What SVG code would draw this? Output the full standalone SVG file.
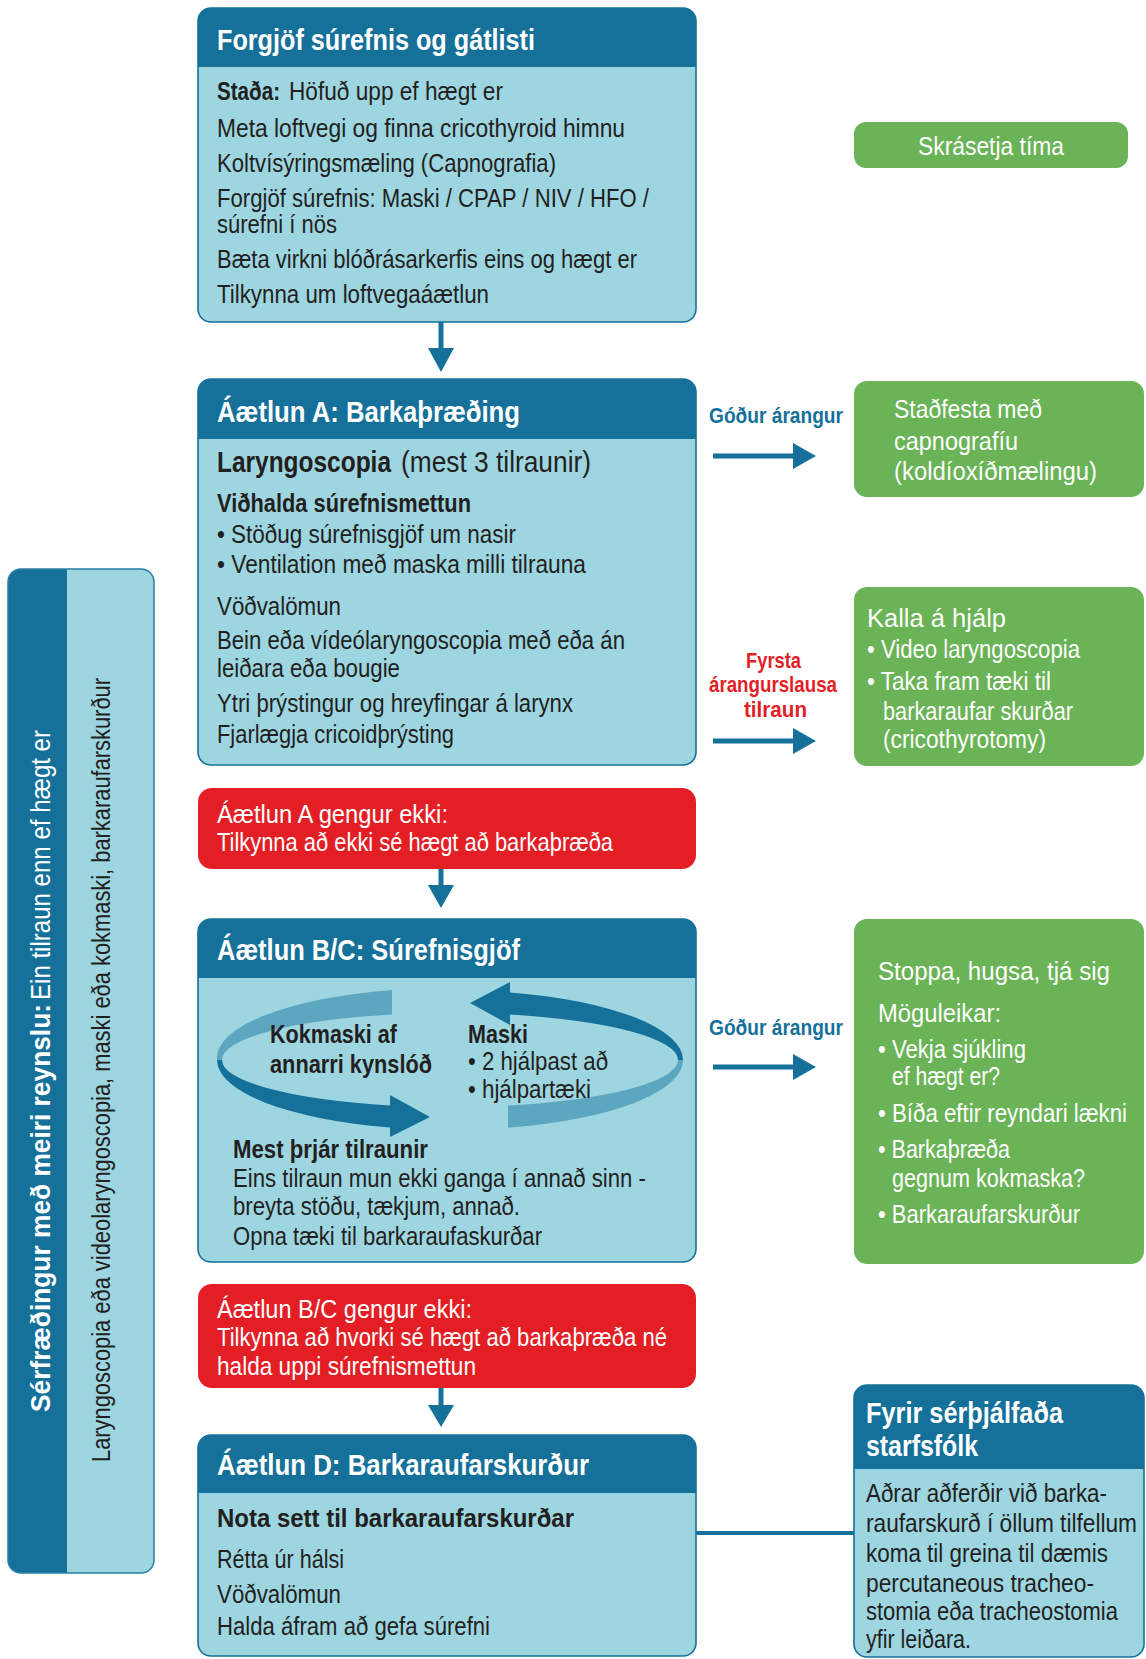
<svg xmlns="http://www.w3.org/2000/svg" width="1146" height="1659" viewBox="0 0 1146 1659">
<style>
text{font-family:"Liberation Sans",Arial,sans-serif}
.panel{fill:#9dd6e1;stroke:#15709a;stroke-width:1.6}
.hd{fill:#15709a}
.green{fill:#6ab356}
.red{fill:#e31e25}
.ht{font-size:30px;font-weight:bold;fill:#fff}
.b{font-size:25px;fill:#231f20}
.bb{font-size:25px;fill:#231f20;font-weight:bold}
.w{font-size:26px;fill:#fff}
.wb{font-size:26px;fill:#fff;font-weight:bold}
.lbl{font-size:22px;font-weight:bold;fill:#15709a}
.lblr{font-size:22px;font-weight:bold;fill:#e31e25}
.conn{stroke:#15709a;stroke-width:5;fill:none}
.head{fill:#15709a}
</style>

<g id="side">
<rect x="8" y="569" width="146" height="1004" rx="13" fill="#9dd6e1"/>
<path d="M67,569 H21 A13,13 0 0 0 8,582 V1560 A13,13 0 0 0 21,1573 H67 Z" fill="#15709a"/>
<rect x="8" y="569" width="146" height="1004" rx="13" fill="none" stroke="#2a7fa6" stroke-width="1.5"/>
<text transform="translate(50,1412) rotate(-90)" font-size="27" fill="#fff" font-weight="bold" textLength="408" lengthAdjust="spacingAndGlyphs">Sérfræðingur með meiri reynslu:</text>
<text transform="translate(50,1000) rotate(-90)" font-size="27" fill="#fff" textLength="270" lengthAdjust="spacingAndGlyphs">Ein tilraun enn ef hægt er</text>
<text transform="translate(110,1462) rotate(-90)" font-size="26" fill="#231f20" textLength="784" lengthAdjust="spacingAndGlyphs">Laryngoscopia eða videolaryngoscopia, maski eða kokmaski, barkaraufarskurður</text>
</g>

<g id="forgjof">
<rect class="panel" x="198" y="8" width="498" height="314" rx="13"/>
<path class="hd" d="M198,21 A13,13 0 0 1 211,8 H683 A13,13 0 0 1 696,21 V67 H198 Z"/>
<text class="ht" x="217" y="50" textLength="318" lengthAdjust="spacingAndGlyphs">Forgjöf súrefnis og gátlisti</text>
<text class="bb" x="217" y="100" textLength="63" lengthAdjust="spacingAndGlyphs">Staða:</text>
<text class="b" x="289" y="100" textLength="214" lengthAdjust="spacingAndGlyphs">Höfuð upp ef hægt er</text>
<text class="b" x="217" y="137" textLength="408" lengthAdjust="spacingAndGlyphs">Meta loftvegi og finna cricothyroid himnu</text>
<text class="b" x="217" y="172" textLength="339" lengthAdjust="spacingAndGlyphs">Koltvísýringsmæling (Capnografia)</text>
<text class="b" x="217" y="207" textLength="432" lengthAdjust="spacingAndGlyphs">Forgjöf súrefnis: Maski / CPAP / NIV / HFO /</text>
<text class="b" x="217" y="233" textLength="120" lengthAdjust="spacingAndGlyphs">súrefni í nös</text>
<text class="b" x="217" y="268" textLength="420" lengthAdjust="spacingAndGlyphs">Bæta virkni blóðrásarkerfis eins og hægt er</text>
<text class="b" x="217" y="303" textLength="272" lengthAdjust="spacingAndGlyphs">Tilkynna um loftvegaáætlun</text>
</g>

<g id="skrasetja">
<rect class="green" x="854" y="122" width="274" height="46" rx="12"/>
<text class="w" x="918" y="155" textLength="146" lengthAdjust="spacingAndGlyphs">Skrásetja tíma</text>
</g>

<g id="planA">
<rect class="panel" x="198" y="379" width="498" height="386" rx="13"/>
<path class="hd" d="M198,392 A13,13 0 0 1 211,379 H683 A13,13 0 0 1 696,392 V439 H198 Z"/>
<text class="ht" x="217" y="422" textLength="303" lengthAdjust="spacingAndGlyphs">Áætlun A: Barkaþræðing</text>
<text x="217" y="472" font-size="29" font-weight="bold" fill="#231f20" textLength="174" lengthAdjust="spacingAndGlyphs">Laryngoscopia</text>
<text x="401" y="472" font-size="29" fill="#231f20" textLength="190" lengthAdjust="spacingAndGlyphs">(mest 3 tilraunir)</text>
<text class="bb" x="217" y="512" textLength="254" lengthAdjust="spacingAndGlyphs">Viðhalda súrefnismettun</text>
<text class="b" x="217" y="543" textLength="299" lengthAdjust="spacingAndGlyphs">• Stöðug súrefnisgjöf um nasir</text>
<text class="b" x="217" y="573" textLength="369" lengthAdjust="spacingAndGlyphs">• Ventilation með maska milli tilrauna</text>
<text class="b" x="217" y="615" textLength="124" lengthAdjust="spacingAndGlyphs">Vöðvalömun</text>
<text class="b" x="217" y="649" textLength="408" lengthAdjust="spacingAndGlyphs">Bein eða vídeólaryngoscopia með eða án</text>
<text class="b" x="217" y="677" textLength="183" lengthAdjust="spacingAndGlyphs">leiðara eða bougie</text>
<text class="b" x="217" y="712" textLength="356" lengthAdjust="spacingAndGlyphs">Ytri þrýstingur og hreyfingar á larynx</text>
<text class="b" x="217" y="743" textLength="237" lengthAdjust="spacingAndGlyphs">Fjarlægja cricoidþrýsting</text>
</g>

<g id="stadfesta">
<rect class="green" x="854" y="381" width="290" height="116" rx="13"/>
<text class="w" x="894" y="418" textLength="148" lengthAdjust="spacingAndGlyphs">Staðfesta með</text>
<text class="w" x="894" y="450" textLength="124" lengthAdjust="spacingAndGlyphs">capnografíu</text>
<text class="w" x="894" y="480" textLength="203" lengthAdjust="spacingAndGlyphs">(koldíoxíðmælingu)</text>
</g>

<g id="kalla">
<rect class="green" x="854" y="587" width="290" height="179" rx="13"/>
<text class="w" x="867" y="627" font-size="29" textLength="139" lengthAdjust="spacingAndGlyphs">Kalla á hjálp</text>
<text class="w" x="867" y="658" textLength="213" lengthAdjust="spacingAndGlyphs">• Video laryngoscopia</text>
<text class="w" x="867" y="690" textLength="184" lengthAdjust="spacingAndGlyphs">• Taka fram tæki til</text>
<text class="w" x="883" y="720" textLength="190" lengthAdjust="spacingAndGlyphs">barkaraufar skurðar</text>
<text class="w" x="883" y="748" textLength="163" lengthAdjust="spacingAndGlyphs">(cricothyrotomy)</text>
</g>

<g id="failA">
<rect class="red" x="198" y="788" width="498" height="81" rx="14"/>
<text class="w" x="217" y="823" textLength="231" lengthAdjust="spacingAndGlyphs">Áætlun A gengur ekki:</text>
<text class="w" x="217" y="851" textLength="396" lengthAdjust="spacingAndGlyphs">Tilkynna að ekki sé hægt að barkaþræða</text>
</g>

<g id="planBC">
<rect class="panel" x="198" y="919" width="498" height="343" rx="13"/>
<path class="hd" d="M198,932 A13,13 0 0 1 211,919 H683 A13,13 0 0 1 696,932 V978 H198 Z"/>
<text class="ht" x="217" y="960" textLength="303" lengthAdjust="spacingAndGlyphs">Áætlun B/C: Súrefnisgjöf</text>
<path d="M392,990 A233,70 0 0 0 217,1060 L222,1060 A228,47 0 0 1 392,1014.5 Z" fill="#5da6bf"/>
<path d="M217,1060 A233,70 0 0 0 390,1127.6 L390,1137 L430,1117 L390,1095 L390,1105.4 A228,47 0 0 1 222,1060 Z" fill="#15709a"/>
<path d="M508,1127.8 A233,70 0 0 0 683,1060 L678,1060 A228,47 0 0 1 508,1105.5 Z" fill="#5da6bf"/>
<path d="M683,1060 A233,70 0 0 0 510,992.4 L510,982 L470,1003 L510,1025 L510,1014.6 A228,47 0 0 1 678,1060 Z" fill="#15709a"/>
<text class="bb" x="270" y="1043" textLength="127" lengthAdjust="spacingAndGlyphs">Kokmaski af</text>
<text class="bb" x="270" y="1073" textLength="162" lengthAdjust="spacingAndGlyphs">annarri kynslóð</text>
<text class="bb" x="468" y="1043" textLength="60" lengthAdjust="spacingAndGlyphs">Maski</text>
<text class="b" x="468" y="1070" textLength="140" lengthAdjust="spacingAndGlyphs">• 2 hjálpast að</text>
<text class="b" x="468" y="1098" textLength="123" lengthAdjust="spacingAndGlyphs">• hjálpartæki</text>
<text class="bb" x="233" y="1158" textLength="195" lengthAdjust="spacingAndGlyphs">Mest þrjár tilraunir</text>
<text class="b" x="233" y="1187" textLength="413" lengthAdjust="spacingAndGlyphs">Eins tilraun mun ekki ganga í annað sinn -</text>
<text class="b" x="233" y="1215" textLength="287" lengthAdjust="spacingAndGlyphs">breyta stöðu, tækjum, annað.</text>
<text class="b" x="233" y="1245" textLength="309" lengthAdjust="spacingAndGlyphs">Opna tæki til barkaraufaskurðar</text>
</g>

<g id="stoppa">
<rect class="green" x="854" y="919" width="290" height="345" rx="13"/>
<text class="w" x="878" y="980" font-size="29" textLength="232" lengthAdjust="spacingAndGlyphs">Stoppa, hugsa, tjá sig</text>
<text class="w" x="878" y="1022" textLength="123" lengthAdjust="spacingAndGlyphs">Möguleikar:</text>
<text class="w" x="878" y="1058" textLength="148" lengthAdjust="spacingAndGlyphs">• Vekja sjúkling</text>
<text class="w" x="892" y="1085" textLength="108" lengthAdjust="spacingAndGlyphs">ef hægt er?</text>
<text class="w" x="878" y="1122" textLength="249" lengthAdjust="spacingAndGlyphs">• Bíða eftir reyndari lækni</text>
<text class="w" x="878" y="1158" textLength="132" lengthAdjust="spacingAndGlyphs">• Barkaþræða</text>
<text class="w" x="892" y="1187" textLength="193" lengthAdjust="spacingAndGlyphs">gegnum kokmaska?</text>
<text class="w" x="878" y="1223" textLength="202" lengthAdjust="spacingAndGlyphs">• Barkaraufarskurður</text>
</g>

<g id="failBC">
<rect class="red" x="198" y="1284" width="498" height="104" rx="14"/>
<text class="w" x="217" y="1318" textLength="255" lengthAdjust="spacingAndGlyphs">Áætlun B/C gengur ekki:</text>
<text class="w" x="217" y="1346" textLength="450" lengthAdjust="spacingAndGlyphs">Tilkynna að hvorki sé hægt að barkaþræða né</text>
<text class="w" x="217" y="1375" textLength="259" lengthAdjust="spacingAndGlyphs">halda uppi súrefnismettun</text>
</g>

<g id="planD">
<rect class="panel" x="198" y="1435" width="498" height="221" rx="13"/>
<path class="hd" d="M198,1448 A13,13 0 0 1 211,1435 H683 A13,13 0 0 1 696,1448 V1493 H198 Z"/>
<text class="ht" x="217" y="1475" textLength="372" lengthAdjust="spacingAndGlyphs">Áætlun D: Barkaraufarskurður</text>
<text class="bb" x="217" y="1527" font-size="27" textLength="357" lengthAdjust="spacingAndGlyphs">Nota sett til barkaraufarskurðar</text>
<text class="b" x="217" y="1568" textLength="127" lengthAdjust="spacingAndGlyphs">Rétta úr hálsi</text>
<text class="b" x="217" y="1603" textLength="124" lengthAdjust="spacingAndGlyphs">Vöðvalömun</text>
<text class="b" x="217" y="1635" textLength="273" lengthAdjust="spacingAndGlyphs">Halda áfram að gefa súrefni</text>
</g>

<g id="fyrir">
<rect class="panel" x="854" y="1385" width="290" height="272" rx="13"/>
<path class="hd" d="M854,1398 A13,13 0 0 1 867,1385 H1131 A13,13 0 0 1 1144,1398 V1469 H854 Z"/>
<text class="ht" x="866" y="1423" textLength="197" lengthAdjust="spacingAndGlyphs">Fyrir sérþjálfaða</text>
<text class="ht" x="866" y="1456" textLength="112" lengthAdjust="spacingAndGlyphs">starfsfólk</text>
<text class="b" x="866" y="1502" textLength="241" lengthAdjust="spacingAndGlyphs">Aðrar aðferðir við barka-</text>
<text class="b" x="866" y="1532" textLength="271" lengthAdjust="spacingAndGlyphs">raufarskurð í öllum tilfellum</text>
<text class="b" x="866" y="1562" textLength="242" lengthAdjust="spacingAndGlyphs">koma til greina til dæmis</text>
<text class="b" x="866" y="1592" textLength="228" lengthAdjust="spacingAndGlyphs">percutaneous tracheo-</text>
<text class="b" x="866" y="1620" textLength="252" lengthAdjust="spacingAndGlyphs">stomia eða tracheostomia</text>
<text class="b" x="866" y="1648" textLength="105" lengthAdjust="spacingAndGlyphs">yfir leiðara.</text>
</g>

<g id="connectors">
<line class="conn" x1="441" y1="322" x2="441" y2="350"/>
<polygon class="head" points="428,348 454,348 441,372"/>
<line class="conn" x1="441" y1="869" x2="441" y2="887"/>
<polygon class="head" points="428,885 454,885 441,908"/>
<line class="conn" x1="441" y1="1388" x2="441" y2="1407"/>
<polygon class="head" points="428,1405 454,1405 441,1427"/>
<line class="conn" x1="713" y1="456" x2="795" y2="456"/>
<polygon class="head" points="793,443 793,469 816,456"/>
<line class="conn" x1="713" y1="741" x2="795" y2="741"/>
<polygon class="head" points="793,728 793,754 816,741"/>
<line class="conn" x1="713" y1="1067" x2="795" y2="1067"/>
<polygon class="head" points="793,1054 793,1080 816,1067"/>
<line x1="696" y1="1533" x2="854" y2="1533" stroke="#15709a" stroke-width="4"/>
<text class="lbl" x="709" y="423" textLength="134" lengthAdjust="spacingAndGlyphs">Góður árangur</text>
<text class="lblr" x="746" y="668" textLength="55" lengthAdjust="spacingAndGlyphs">Fyrsta</text>
<text class="lblr" x="709" y="692" textLength="128" lengthAdjust="spacingAndGlyphs">árangurslausa</text>
<text class="lblr" x="744" y="717" textLength="63" lengthAdjust="spacingAndGlyphs">tilraun</text>
<text class="lbl" x="709" y="1035" textLength="134" lengthAdjust="spacingAndGlyphs">Góður árangur</text>
</g>
</svg>
